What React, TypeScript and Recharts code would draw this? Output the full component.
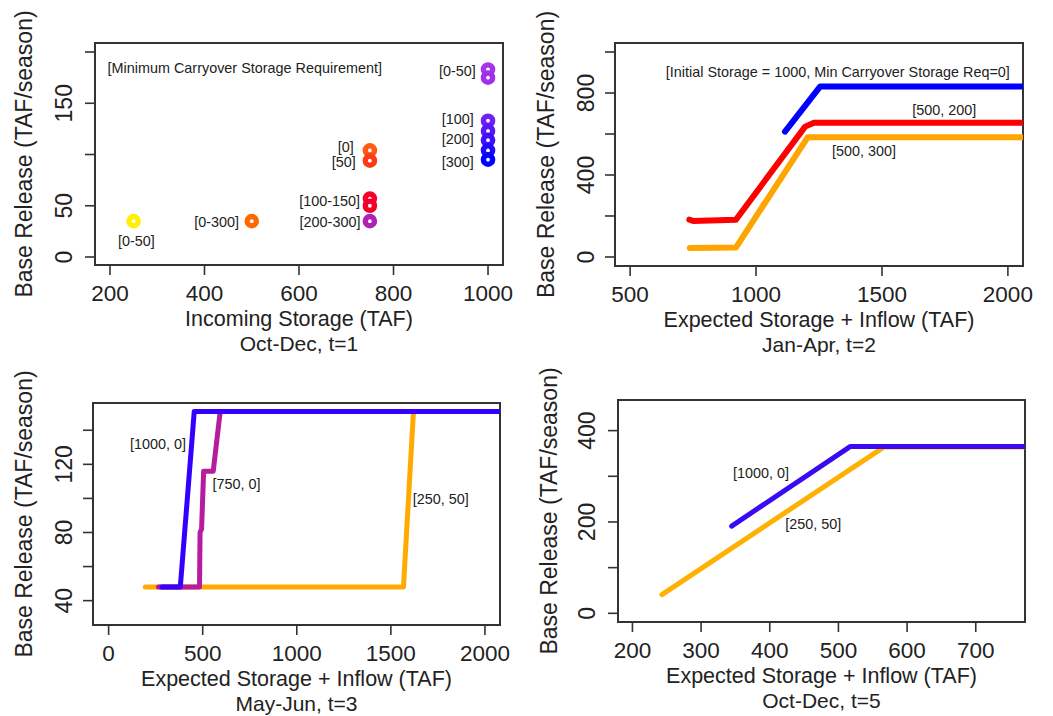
import React from 'react';
import { ComposedChart, Scatter, Line, XAxis, YAxis, ReferenceDot, Customized } from 'recharts';

const FONT = '"Liberation Sans", Arial, Helvetica, sans-serif';
const INK = '#222';
const FRAME = '#333';

// ---------- Panel 1: Oct-Dec, t=1 (scatter) ----------
const t1Storage = [250, 500, 750, 750, 750, 750, 750, 1000, 1000, 1000, 1000, 1000, 1000, 1000];
const t1Release = [35, 35, 104, 94, 57, 50, 35, 183, 175, 133, 123, 114, 104, 95];
const t1Colors = ['#FFF000', '#FF6A00', '#FF5A12', '#FF3A18', '#F5002A', '#F5002A', '#B020B5', '#A834E8', '#A030EA', '#7020F2', '#5A18F4', '#4010F6', '#2008F8', '#0000FF'];
const t1XTicks = [200, 400, 600, 800, 1000];
const t1YTicks = [0, 50, 100, 150, 200];
const t1YLabeled = [0, 50, 150];
const t1NoteText = ['[Minimum Carryover Storage Requirement]', '[0-50]', '[0-300]', '[0]', '[50]', '[100-150]', '[200-300]', '[0-50]', '[100]', '[200]', '[300]'];
const t1NoteX = [195, 256, 473, 716, 720, 729, 730, 974, 970, 970, 970];
const t1NoteY = [179.8, 10.7, 29.6, 102.7, 88, 49.8, 29.6, 176.6, 129.8, 110.2, 88];
const t1NoteAnchor = ['start', 'middle', 'end', 'end', 'end', 'end', 'end', 'end', 'end', 'end', 'end'];

// ---------- Panel 2: Jan-Apr, t=2 ----------
const t2BlueStorage = [1115, 1255, 2100];
const t2BlueRelease = [612, 832, 832];
const t2RedStorage = [735, 750, 920, 1195, 1230, 2100];
const t2RedRelease = [182, 176, 182, 636, 655, 655];
const t2OrangeStorage = [737, 920, 1205, 2100];
const t2OrangeRelease = [44, 46, 584, 584];
const t2XTicks = [500, 1000, 1500, 2000];
const t2YTicks = [0, 200, 400, 600, 800, 1000];
const t2YLabeled = [0, 400, 800];
const t2NoteText = ['[Initial Storage = 1000, Min Carryover Storage Req=0]', '[500, 200]', '[500, 300]'];
const t2NoteX = [642, 1620, 1302];
const t2NoteY = [879.5, 692.7, 492.7];

// ---------- Panel 3: May-Jun, t=3 ----------
const t3OrangeStorage = [195, 1567, 1620, 2150];
const t3OrangeRelease = [48, 48, 151, 151];
const t3MagentaStorage = [265, 483, 486, 494, 505, 556, 593, 2150];
const t3MagentaRelease = [48, 48, 80, 82, 116, 116, 151, 151];
const t3BlueStorage = [283, 381, 455, 2150];
const t3BlueRelease = [48, 48, 151, 151];
const t3XTicks = [0, 500, 1000, 1500, 2000];
const t3YTicks = [40, 60, 80, 100, 120, 140];
const t3YLabeled = [40, 80, 120];
const t3NoteText = ['[1000, 0]', '[750, 0]', '[250, 50]'];
const t3NoteX = [411, 552, 1616];
const t3NoteY = [129.2, 105.6, 96.8];
const t3NoteAnchor = ['end', 'start', 'start'];

// ---------- Panel 4: Oct-Dec, t=5 ----------
const t5OrangeStorage = [243, 566, 800];
const t5OrangeRelease = [41, 364, 364];
const t5BlueStorage = [344.5, 517, 800];
const t5BlueRelease = [191, 365, 365];
const t5XTicks = [200, 300, 400, 500, 600, 700];
const t5YTicks = [0, 100, 200, 300, 400];
const t5YLabeled = [0, 200, 400];
const t5NoteText = ['[1000, 0]', '[250, 50]'];
const t5NoteX = [346.5, 422.6];
const t5NoteY = [297, 184];

const zip = (xs: number[], ys: number[]) => xs.map((x, i) => ({ x, y: ys[i], i }));

type Box = { l: number; t: number; r: number; b: number };

function Frame({ box, xTitle, subtitle, yTitle, yTitleOff }: any) {
  const cx = (box.l + box.r) / 2;
  const cy = (box.t + box.b) / 2;
  const yx = box.l - yTitleOff;
  return (
    <g>
      <rect x={box.l} y={box.t} width={box.r - box.l} height={box.b - box.t} fill="none" stroke={FRAME} strokeWidth={2} />
      <text x={cx} y={box.b + 60.5} textAnchor="middle" fontFamily={FONT} fontSize={21.5} fill={INK}>{xTitle}</text>
      <text x={cx} y={box.b + 85.5} textAnchor="middle" fontFamily={FONT} fontSize={21} fill={INK}>{subtitle}</text>
      <text x={yx} y={cy} transform={`rotate(-90, ${yx}, ${cy})`} textAnchor="middle" fontFamily={FONT} fontSize={23} fill={INK}>{yTitle}</text>
    </g>
  );
}

function Panel(p: any) {
  const box: Box = p.box;
  const margin = { top: box.t, right: p.width - box.r, left: 0, bottom: 0 };
  const xTick = (tp: any) => (
    <text x={tp.x} y={tp.y} dy={26} textAnchor="middle" fontFamily={FONT} fontSize={22.5} fill={INK}>
      {tp.payload.value}
    </text>
  );
  const yTick = (tp: any) =>
    p.yLabeled.includes(tp.payload.value) ? (
      <text x={tp.x} y={tp.y} dy={-p.yTickOff} transform={`rotate(-90, ${tp.x}, ${tp.y})`} textAnchor="middle" fontFamily={FONT} fontSize={23} fill={INK}>
        {tp.payload.value}
      </text>
    ) : (
      <g />
    );
  return (
    <div style={{ position: 'absolute', left: p.left, top: p.top, width: p.width, height: p.height }}>
      <ComposedChart width={p.width} height={p.height} margin={margin}>
        <XAxis
          type="number"
          dataKey="x"
          domain={p.xDomain}
          ticks={p.xTicks}
          interval={0}
          allowDataOverflow
          height={p.height - box.b}
          tickSize={10}
          tickMargin={0}
          axisLine={false}
          tickLine={{ stroke: FRAME, strokeWidth: 1.6 }}
          tick={xTick}
        />
        <YAxis
          type="number"
          dataKey="y"
          domain={p.yDomain}
          ticks={p.yTicks}
          interval={0}
          allowDataOverflow
          width={box.l}
          tickSize={10}
          tickMargin={0}
          axisLine={false}
          tickLine={{ stroke: FRAME, strokeWidth: 1.6 }}
          tick={yTick}
        />
        {p.series}
        {p.notes.map((n: any, k: number) => (
          <ReferenceDot
            key={'n' + k}
            x={n.x}
            y={n.y}
            r={0}
            ifOverflow="visible"
            shape={(sp: any) => (
              <text x={sp.cx} y={sp.cy} textAnchor={n.anchor} fontFamily={FONT} fontSize={14.4} fill={INK}>
                {n.text}
              </text>
            )}
          />
        ))}
        <Customized component={<Frame box={box} xTitle={p.xTitle} subtitle={p.subtitle} yTitle="Base Release (TAF/season)" yTitleOff={p.yTitleOff} />} />
      </ComposedChart>
    </div>
  );
}

const mkNotes = (texts: string[], xs: number[], ys: number[], anchors?: string[]) =>
  texts.map((text, i) => ({ text, x: xs[i], y: ys[i], anchor: anchors ? anchors[i] : 'start' }));

const mkLine = (key: string, xs: number[], ys: number[], color: string, w: number) => (
  <Line
    key={key}
    data={zip(xs, ys)}
    dataKey="y"
    type="linear"
    stroke={color}
    strokeWidth={w}
    strokeLinecap="round"
    strokeLinejoin="round"
    dot={false}
    activeDot={false}
    isAnimationActive={false}
  />
);

const Ring = (sp: any) => (
  <circle cx={sp.cx} cy={sp.cy} r={4.6} fill="#fff" stroke={t1Colors[sp.payload.i]} strokeWidth={5.4} />
);

export default function App() {
  const t1Points = zip(t1Storage, t1Release);
  return (
    <div style={{ position: 'absolute', left: 0, top: 0, width: 1053, height: 716, background: '#fff', overflow: 'hidden' }}>
      <Panel
        left={0}
        top={0}
        width={526}
        height={358}
        box={{ l: 95, t: 43, r: 503, b: 265 }}
        xDomain={[168.3, 1031.7]}
        yDomain={[-7.8, 208.8]}
        xTicks={t1XTicks}
        yTicks={t1YTicks}
        yLabeled={t1YLabeled}
        yTickOff={12.5}
        yTitleOff={63}
        xTitle="Incoming Storage (TAF)"
        subtitle="Oct-Dec, t=1"
        notes={mkNotes(t1NoteText, t1NoteX, t1NoteY, t1NoteAnchor)}
        series={[<Scatter key="s" data={t1Points} shape={Ring} isAnimationActive={false} />]}
      />
      <Panel
        left={526}
        top={0}
        width={527}
        height={358}
        box={{ l: 89, t: 43, r: 497, b: 266 }}
        xDomain={[440, 2060]}
        yDomain={[-44, 1044]}
        xTicks={t2XTicks}
        yTicks={t2YTicks}
        yLabeled={t2YLabeled}
        yTickOff={11}
        yTitleOff={61}
        xTitle="Expected Storage + Inflow (TAF)"
        subtitle="Jan-Apr, t=2"
        notes={mkNotes(t2NoteText, t2NoteX, t2NoteY)}
        series={[
          mkLine('o', t2OrangeStorage, t2OrangeRelease, '#FFA500', 6),
          mkLine('r', t2RedStorage, t2RedRelease, '#FF0000', 6),
          mkLine('b', t2BlueStorage, t2BlueRelease, '#0000FF', 6),
        ]}
      />
      <Panel
        left={0}
        top={358}
        width={526}
        height={358}
        box={{ l: 93, t: 45, r: 500, b: 267 }}
        xDomain={[-83, 2080]}
        yDomain={[25.7, 156]}
        xTicks={t3XTicks}
        yTicks={t3YTicks}
        yLabeled={t3YLabeled}
        yTickOff={11}
        yTitleOff={61}
        xTitle="Expected Storage + Inflow (TAF)"
        subtitle="May-Jun, t=3"
        notes={mkNotes(t3NoteText, t3NoteX, t3NoteY, t3NoteAnchor)}
        series={[
          mkLine('o', t3OrangeStorage, t3OrangeRelease, '#FFAA00', 5),
          mkLine('m', t3MagentaStorage, t3MagentaRelease, '#B81AA0', 5),
          mkLine('b', t3BlueStorage, t3BlueRelease, '#3300FF', 5),
        ]}
      />
      <Panel
        left={526}
        top={358}
        width={527}
        height={358}
        box={{ l: 92, t: 42, r: 499, b: 264 }}
        xDomain={[179, 771.7]}
        yDomain={[-19, 467]}
        xTicks={t5XTicks}
        yTicks={t5YTicks}
        yLabeled={t5YLabeled}
        yTickOff={12.5}
        yTitleOff={61}
        xTitle="Expected Storage + Inflow (TAF)"
        subtitle="Oct-Dec, t=5"
        notes={mkNotes(t5NoteText, t5NoteX, t5NoteY)}
        series={[
          mkLine('o', t5OrangeStorage, t5OrangeRelease, '#FFB000', 5),
          mkLine('b', t5BlueStorage, t5BlueRelease, '#3A0AF0', 5),
        ]}
      />
    </div>
  );
}
